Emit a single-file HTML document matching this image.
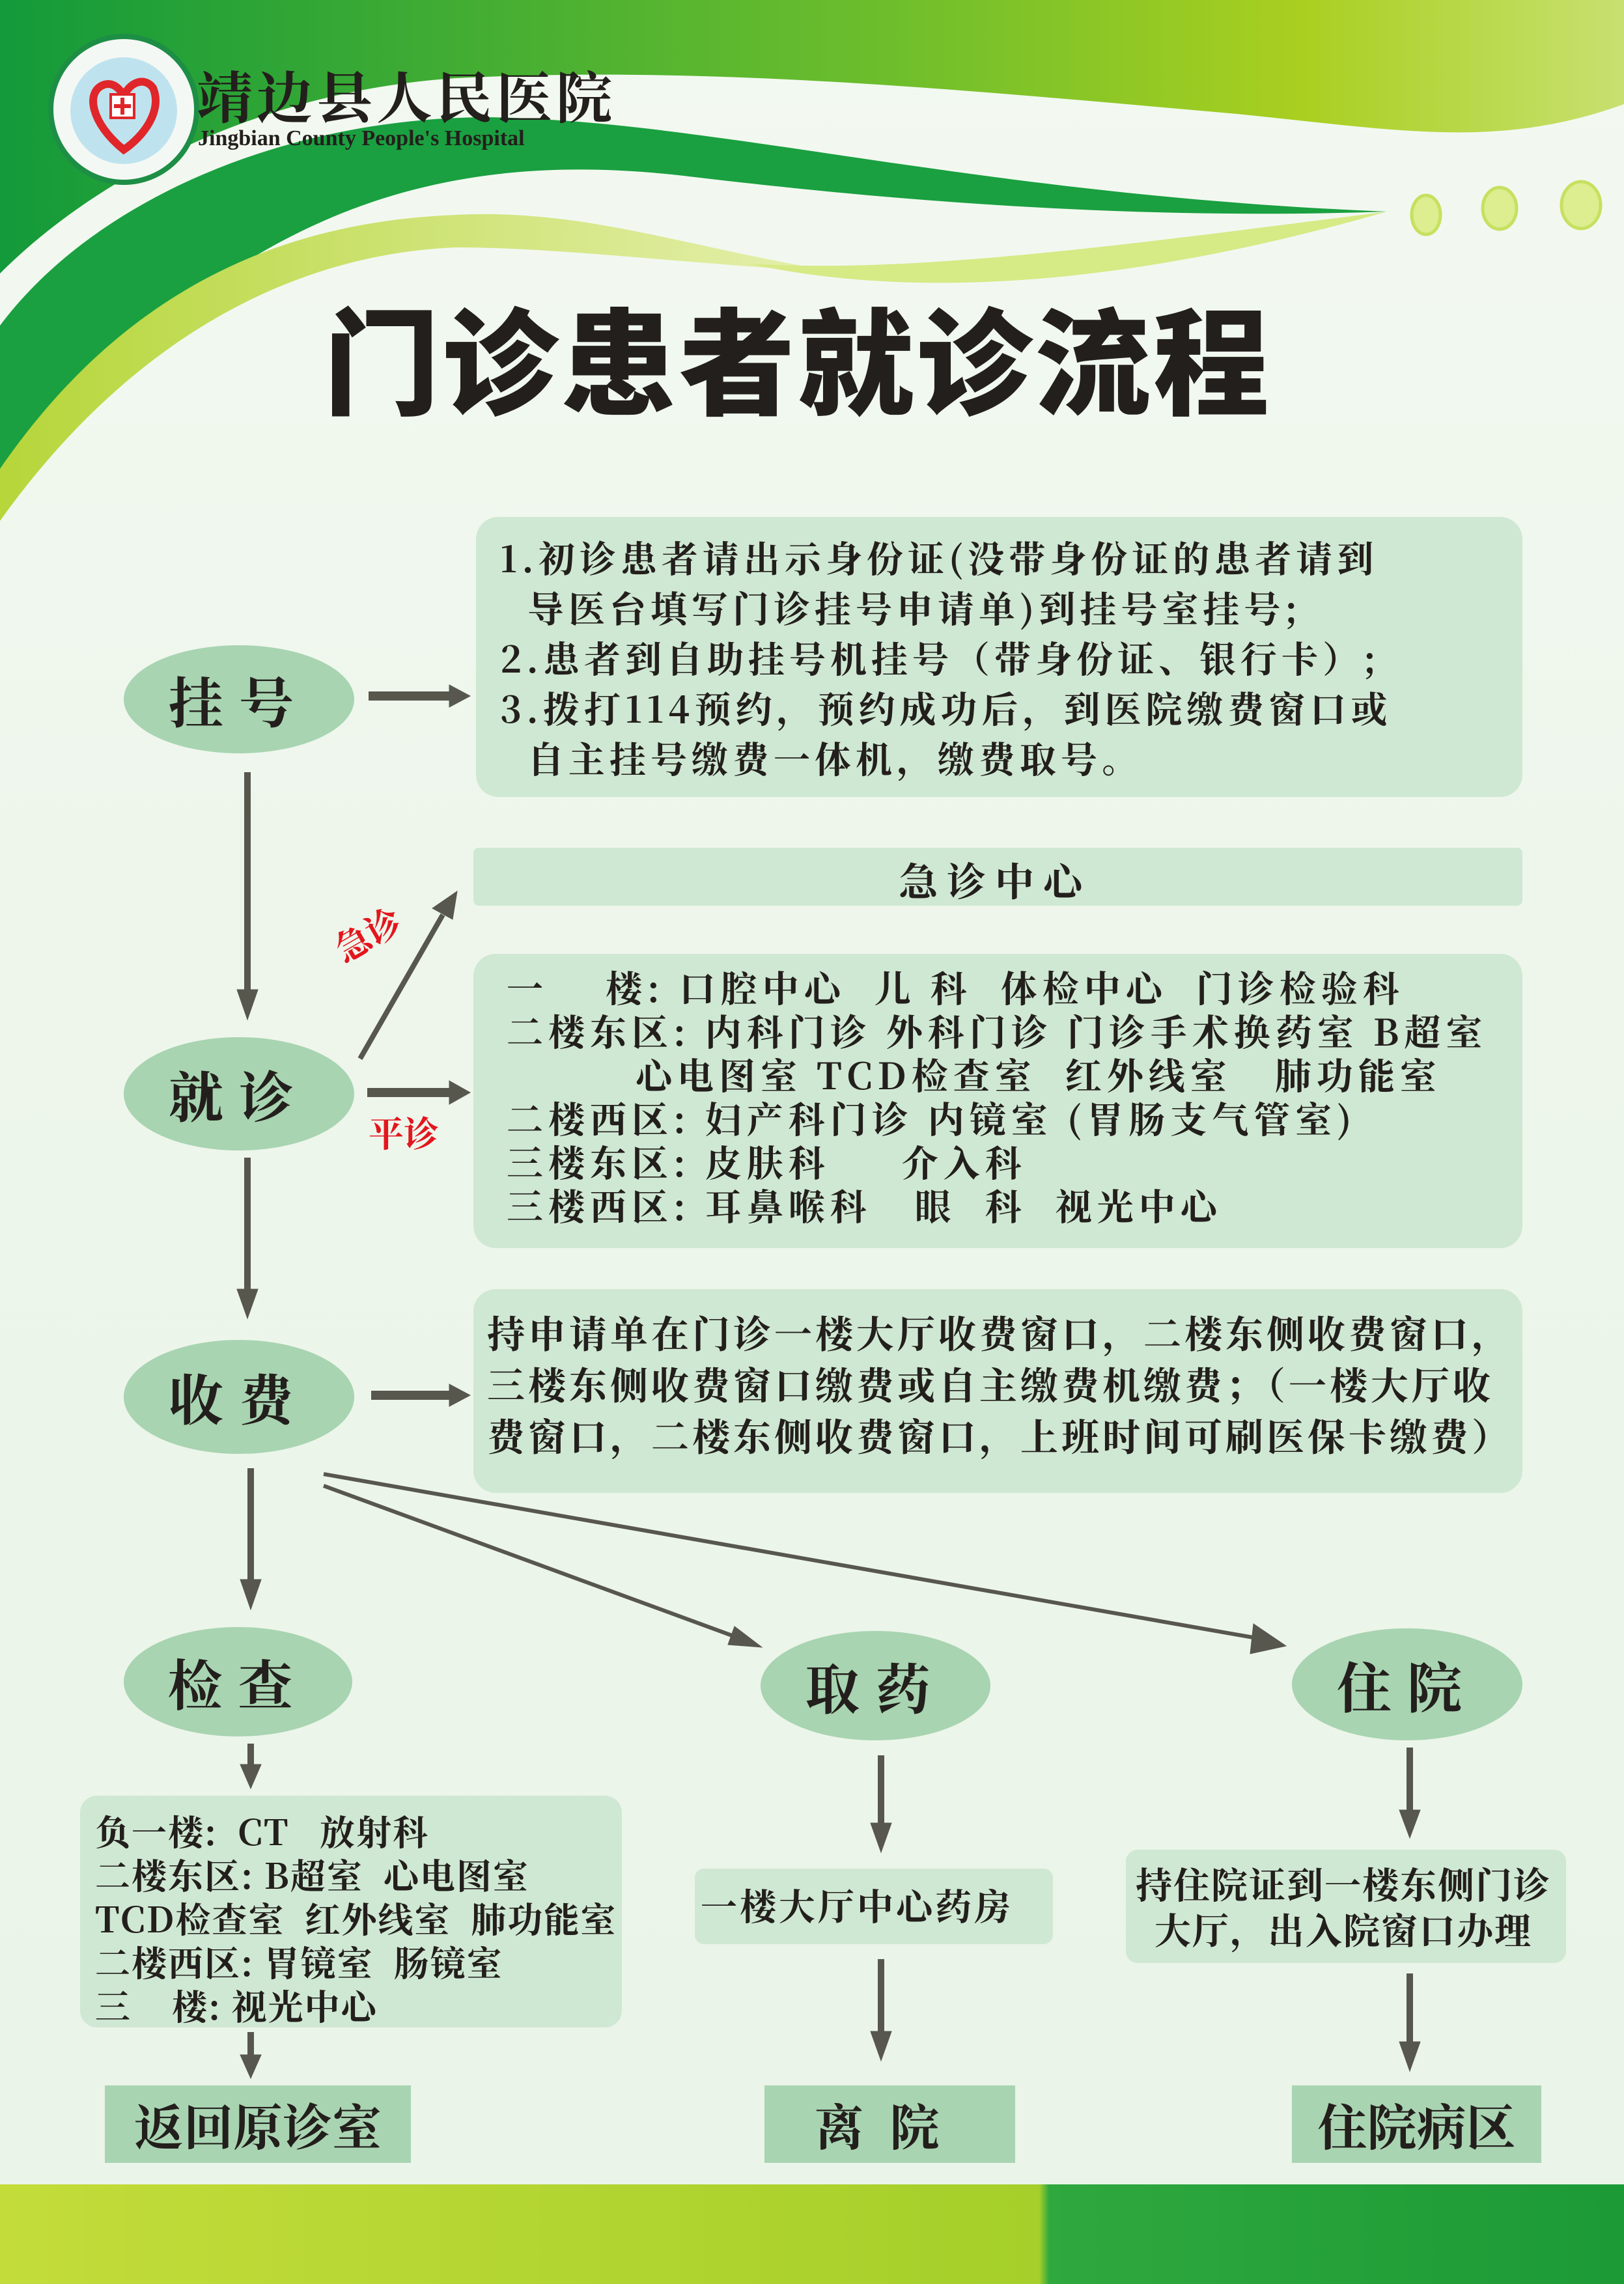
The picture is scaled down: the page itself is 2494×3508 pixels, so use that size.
<!DOCTYPE html>
<html><head><meta charset="utf-8">
<style>
*{margin:0;padding:0;box-sizing:border-box}
body{width:2494px;height:3508px;position:relative;overflow:hidden;background:linear-gradient(180deg,#f3f9f1 0%,#eef6ec 40%,#eaf4e8 100%);font-family:"Liberation Sans","Noto Sans CJK SC",sans-serif;color:#231f1c}
.a{position:absolute}
.box{position:absolute;background:#cfe8d3;border-radius:34px}
.ell{position:absolute;background:#a8d4b1;border-radius:50%;display:flex;align-items:center;justify-content:center;font-size:84px;font-weight:bold;letter-spacing:24px;font-family:"Noto Serif CJK SC","Noto Sans CJK SC",serif}
.t{position:absolute;white-space:pre;font-weight:bold;font-family:"Noto Serif CJK SC","Noto Sans CJK SC",serif}
.bb{position:absolute;background:#a9d4b2;display:flex;align-items:center;justify-content:center;font-size:76px;font-weight:bold;font-family:"Noto Serif CJK SC","Noto Sans CJK SC",serif}
</style></head><body>
<svg class="a" style="left:0;top:0" width="2494" height="3508">
<defs>
<linearGradient id="g1" x1="0" x2="1"><stop offset="0" stop-color="#139a3a"/><stop offset="0.55" stop-color="#6ebe2c"/><stop offset="0.8" stop-color="#a9cf20"/><stop offset="1" stop-color="#c8e070"/></linearGradient>
<linearGradient id="g2" x1="0" x2="1"><stop offset="0" stop-color="#b6d63a"/><stop offset="1" stop-color="#e6f0b0"/></linearGradient>
<linearGradient id="gb" x1="0" x2="1"><stop offset="0" stop-color="#c3dc3a"/><stop offset="0.64" stop-color="#a5cf2a"/><stop offset="0.646" stop-color="#2fa83e"/><stop offset="1" stop-color="#1c9a36"/></linearGradient>
</defs>
<path d="M0 0H2494V160C2300 230 2150 200 1900 175C1500 140 1100 100 700 120C400 140 150 270 0 420Z" fill="url(#g1)"/>
<path d="M0 500C150 300 450 180 750 180C1100 185 1500 300 2130 325C1700 340 1300 300 1050 270C700 230 350 300 0 760Z" fill="#1aa040"/>
<path d="M0 720C200 430 450 340 700 330C900 320 1050 380 1300 420C1000 400 850 380 700 380C450 390 200 520 0 800Z" fill="url(#g2)"/>
<path d="M1150 405C1400 420 1700 380 2130 325C1800 420 1450 470 1150 405Z" fill="#d6ea86"/>
<ellipse cx="2190" cy="330" rx="22" ry="30" fill="#dcee90" stroke="#c7e060" stroke-width="5"/>
<ellipse cx="2303" cy="320" rx="26" ry="32" fill="#dcee90" stroke="#c7e060" stroke-width="5"/>
<ellipse cx="2428" cy="315" rx="30" ry="36" fill="#dcee90" stroke="#c7e060" stroke-width="5"/>
<circle cx="190" cy="168" r="112" fill="#f4f8f4" stroke="#1d8e45" stroke-width="8"/>
<circle cx="190" cy="170" r="82" fill="#bfe3ee"/>
<path d="M190 230C140 190 130 140 160 130C175 125 188 140 190 150C195 130 220 115 235 135C250 170 220 210 190 230Z" fill="none" stroke="#e0262a" stroke-width="12"/>
<rect x="170" y="145" width="36" height="36" fill="#fff" stroke="#e0262a" stroke-width="4"/>
<path d="M188 150V176M175 163H201" stroke="#e0262a" stroke-width="6"/>
<rect x="0" y="3355" width="2494" height="153" fill="url(#gb)"/>
<g fill="#57574d" stroke="#57574d">
<path d="M566 1069H690" stroke-width="14"/><path d="M690 1052L722 1069L690 1086Z"/>
<path d="M380 1186V1525" stroke-width="10"/><path d="M364 1520L380 1566L396 1520Z"/>
<path d="M553 1626L680 1405" stroke-width="8"/><path d="M664 1395L702 1369L695 1412Z"/>
<path d="M564 1678H690" stroke-width="14"/><path d="M690 1660L722 1678L690 1696Z"/>
<path d="M380 1778V1985" stroke-width="10"/><path d="M364 1980L380 2025L396 1980Z"/>
<path d="M570 2143H690" stroke-width="14"/><path d="M690 2126L722 2143L690 2160Z"/>
<path d="M385 2255V2430" stroke-width="10"/><path d="M369 2426L385 2472L401 2426Z"/>
<path d="M497 2282L1135 2516" stroke-width="6"/><path d="M1128 2498L1170 2530L1118 2526Z"/>
<path d="M497 2264L1930 2516" stroke-width="6"/><path d="M1925 2494L1975 2528L1920 2540Z"/>
<path d="M385 2678V2715" stroke-width="10"/><path d="M369 2710L385 2747L401 2710Z"/>
<path d="M1353 2696V2805" stroke-width="10"/><path d="M1337 2800L1353 2845L1369 2800Z"/>
<path d="M2165 2684V2785" stroke-width="10"/><path d="M2149 2780L2165 2823L2181 2780Z"/>
<path d="M385 3121V3160" stroke-width="10"/><path d="M369 3156L385 3192L401 3156Z"/>
<path d="M1353 3009V3125" stroke-width="10"/><path d="M1337 3120L1353 3165L1369 3120Z"/>
<path d="M2165 3031V3140" stroke-width="10"/><path d="M2149 3136L2165 3181L2181 3136Z"/>
</g>
</svg>
<div class="t" style="left:302px;top:82px;font-size:86px;letter-spacing:6px">靖边县人民医院</div>
<div class="t" style="left:304px;top:194px;font-size:34px;font-family:'Liberation Serif',serif">Jingbian County People's Hospital</div>
<div class="t" style="left:497px;top:418px;font-size:178px;font-family:'Noto Sans CJK SC',sans-serif;font-weight:900;letter-spacing:4px">门诊患者就诊流程</div>

<div class="box" style="left:731px;top:794px;width:1607px;height:430px"></div>
<div class="t" style="left:768px;top:818px;font-size:56px;line-height:77px;letter-spacing:7px">1.初诊患者请出示身份证(没带身份证的患者请到
  导医台填写门诊挂号申请单)到挂号室挂号;
2.患者到自助挂号机挂号（带身份证、银行卡）;
3.拨打114预约，预约成功后，到医院缴费窗口或
  自主挂号缴费一体机，缴费取号。</div>
<div class="ell" style="left:190px;top:991px;width:354px;height:166px">挂号</div>

<div class="box" style="left:727px;top:1302px;width:1611px;height:89px;border-radius:8px"></div>
<div class="t" style="left:1380px;top:1308px;font-size:60px;letter-spacing:14px">急诊中心</div>
<div class="box" style="left:727px;top:1465px;width:1611px;height:452px"></div>
<div class="t" style="left:778px;top:1483px;font-size:56px;line-height:67px;letter-spacing:8px">一    楼: 口腔中心  儿 科  体检中心  门诊检验科
二楼东区: 内科门诊 外科门诊 门诊手术换药室 B超室
         心电图室 TCD检查室  红外线室   肺功能室
二楼西区: 妇产科门诊 内镜室 (胃肠支气管室)
三楼东区: 皮肤科     介入科
三楼西区: 耳鼻喉科   眼  科  视光中心</div>
<div class="ell" style="left:190px;top:1593px;width:354px;height:174px">就诊</div>
<div class="t" style="left:510px;top:1395px;font-size:54px;color:#e3161d;transform:rotate(-30deg)">急诊</div>
<div class="t" style="left:566px;top:1700px;font-size:54px;color:#e3161d">平诊</div>

<div class="box" style="left:727px;top:1980px;width:1611px;height:313px"></div>
<div class="t" style="left:748px;top:2006px;font-size:58px;line-height:79px;letter-spacing:5px">持申请单在门诊一楼大厅收费窗口，二楼东侧收费窗口，
三楼东侧收费窗口缴费或自主缴费机缴费；（一楼大厅收
费窗口，二楼东侧收费窗口，上班时间可刷医保卡缴费）</div>
<div class="ell" style="left:190px;top:2058px;width:354px;height:175px">收费</div>

<div class="ell" style="left:190px;top:2499px;width:351px;height:168px">检查</div>
<div class="ell" style="left:1168px;top:2505px;width:353px;height:168px">取药</div>
<div class="ell" style="left:1984px;top:2501px;width:354px;height:172px">住院</div>

<div class="box" style="left:123px;top:2758px;width:832px;height:356px;border-radius:26px"></div>
<div class="t" style="left:146px;top:2778px;font-size:54px;line-height:67px;letter-spacing:2px">负一楼:  CT   放射科
二楼东区: B超室  心电图室
TCD检查室  红外线室  肺功能室
二楼西区: 胃镜室  肠镜室
三    楼: 视光中心</div>
<div class="box" style="left:1067px;top:2870px;width:550px;height:116px;border-radius:14px"></div>
<div class="t" style="left:1076px;top:2886px;font-size:56px;letter-spacing:4px">一楼大厅中心药房</div>
<div class="box" style="left:1729px;top:2841px;width:676px;height:174px;border-radius:18px"></div>
<div class="t" style="left:1744px;top:2858px;font-size:56px;line-height:70px;text-align:center;letter-spacing:2px">持住院证到一楼东侧门诊
大厅，出入院窗口办理</div>

<div class="bb" style="left:161px;top:3203px;width:470px;height:119px">返回原诊室</div>
<div class="bb" style="left:1174px;top:3203px;width:385px;height:119px;letter-spacing:40px">离院</div>
<div class="bb" style="left:1984px;top:3203px;width:383px;height:119px">住院病区</div>
</body></html>
